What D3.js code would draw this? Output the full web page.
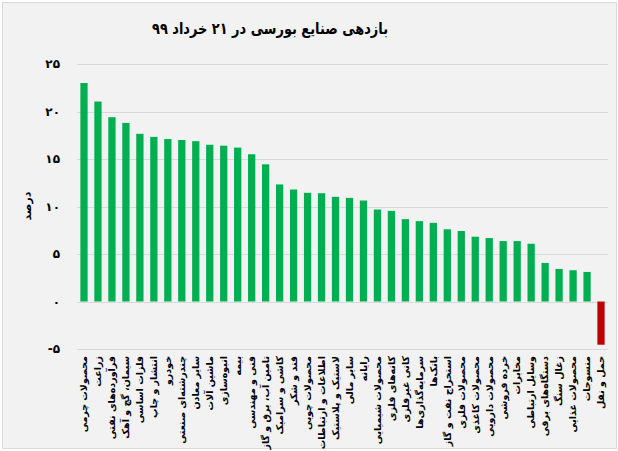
<!DOCTYPE html>
<html>
<head>
<meta charset="utf-8">
<script src="https://cdn.jsdelivr.net/npm/d3@7"></script>
<style>
  html, body { margin: 0; padding: 0; background: #ffffff; }
  svg { display: block; }
  text { font-family: "DejaVu Sans", Tahoma, sans-serif; font-weight: bold; fill: #000; }
</style>
</head>
<body>
<svg id="chart" width="618" height="451"></svg>
<script>
const categories = [
  "محصولات چرمی", "زراعت", "فرآورده‌های نفتی", "سیمان، گچ و آهک", "فلزات اساسی",
  "انتشار و چاپ", "خودرو", "چندرشته‌ای صنعتی", "سایر معادن", "ماشین آلات",
  "انبوه‌سازی", "بیمه", "فنی و مهندسی", "تامین آب، برق و گاز", "کاشی و سرامیک",
  "قند و شکر", "محصولات چوبی", "اطلاعات و ارتباطات", "لاستیک و پلاستیک", "سایر مالی",
  "رایانه", "محصولات شیمیایی", "کانه‌های فلزی", "کانی غیرفلزی", "سرمایه‌گذاری‌ها",
  "بانک‌ها", "استخراج نفت و گاز", "محصولات فلزی", "محصولات کاغذی", "محصولات دارویی",
  "خرده فروشی", "مخابرات", "وسایل ارتباطی", "دستگاه‌های برقی", "زغال سنگ",
  "محصولات غذایی", "منسوجات", "حمل و نقل"
];
const values = [
  23.0, 21.05, 19.4, 18.8, 17.65,
  17.33, 17.1, 17.0, 16.88, 16.5,
  16.4, 16.2, 15.5, 14.44, 12.32,
  11.79, 11.44, 11.4, 11.02, 10.91,
  10.63, 9.68, 9.54, 8.67, 8.46,
  8.28, 7.6, 7.42, 6.82, 6.68,
  6.36, 6.36, 6.08, 4.06, 3.43,
  3.29, 3.11, -4.55
];
const tickValues = [-5, 0, 5, 10, 15, 20, 25];
const tickLabels = ["-۵", "۰", "۵", "۱۰", "۱۵", "۲۰", "۲۵"];
const title = "بازدهی صنایع بورسی در ۲۱ خرداد ۹۹";
const yTitle = "درصد";

const svg = d3.select("#chart");
const W = 618, H = 451;

// chart frame
svg.append("rect").attr("x", 2.5).attr("y", 2.5).attr("width", W - 4).attr("height", H - 5)
  .attr("fill", "#f2f2f2").attr("stroke", "#d9d9d9").attr("stroke-width", 1);

const plot = { left: 77, right: 608, top: 64, bottom: 349 };

const x = d3.scaleBand().domain(categories).range([plot.left, plot.right])
  .paddingInner(0.48).paddingOuter(0.24);
const y = d3.scaleLinear().domain([-5, 25]).range([plot.bottom, plot.top]);

// gridlines
svg.append("g").selectAll("line").data(tickValues).join("line")
  .attr("x1", plot.left).attr("x2", plot.right)
  .attr("y1", d => Math.round(y(d)) + 0.5).attr("y2", d => Math.round(y(d)) + 0.5)
  .attr("stroke", "#d9d9d9").attr("stroke-width", 1);

// y axis labels
const yAxis = d3.axisLeft(y).tickValues(tickValues)
  .tickFormat((d, i) => tickLabels[i]).tickSize(0).tickPadding(0);
const gy = svg.append("g").attr("transform", "translate(60,0)").call(yAxis);
gy.select(".domain").remove();
gy.selectAll("text").style("font-size", "12px").attr("direction", "ltr")
  .style("font-family", "\"DejaVu Sans\", sans-serif").style("font-weight", "bold");

// bars
svg.append("g").selectAll("rect").data(values).join("rect")
  .attr("x", (d, i) => x(categories[i]))
  .attr("width", x.bandwidth())
  .attr("y", d => y(Math.max(0, d)))
  .attr("height", d => Math.abs(y(d) - y(0)))
  .attr("fill", d => d >= 0 ? "#00b050" : "#c00000");

// category labels
const xAxis = d3.axisBottom(x).tickSize(0).tickPadding(0);
const gx = svg.append("g").attr("transform", `translate(0,${plot.bottom})`).call(xAxis);
gx.select(".domain").remove();
gx.selectAll(".tick text")
  .attr("transform", "translate(0,7) rotate(-90)")
  .attr("x", 0).attr("y", 0).attr("dy", "0.35em")
  .attr("text-anchor", "end")
  .style("font-size", "9.5px")
  .style("font-family", "\"DejaVu Sans\", sans-serif").style("font-weight", "bold");

// title
svg.append("text").attr("x", 270).attr("y", 34).attr("text-anchor", "middle")
  .attr("textLength", 236).attr("lengthAdjust", "spacingAndGlyphs")
  .style("font-family", "\"DejaVu Sans Condensed\", \"DejaVu Sans\", sans-serif")
  .style("font-size", "16px").text(title);

// y title
svg.append("text").attr("transform", "translate(27,206) rotate(-90)")
  .attr("text-anchor", "middle").attr("dy", "0.35em")
  .style("font-size", "11px").text(yTitle);
</script>
</body>
</html>
